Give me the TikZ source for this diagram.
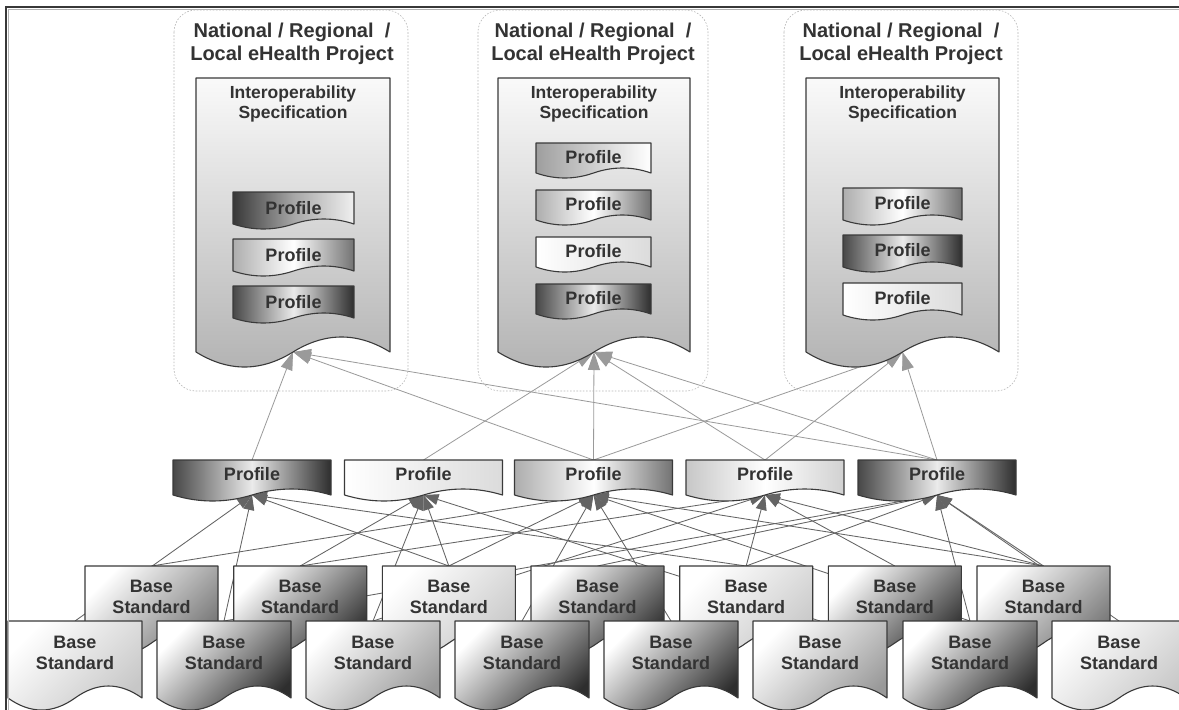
\documentclass[tikz,border=0pt]{standalone}
\usepackage{fontspec}
\setmainfont{Liberation Sans}
\usetikzlibrary{arrows.meta}
\definecolor{edgec}{HTML}{3A3A3A}
\definecolor{txtc}{HTML}{333333}
\definecolor{upc}{HTML}{9A9A9A}
\definecolor{loc}{HTML}{646464}
\pgfdeclarelayer{bgl}
\pgfdeclarelayer{lines}
\pgfsetlayers{bgl,lines,main}
\newcommand\docfont{\bfseries\fontsize{18}{21}\selectfont}
\newcommand\docshape[9]{%
  \pgfmathsetmacro\dsXl{#2-#4/2}%
  \pgfmathsetmacro\dsXr{#2+#4/2}%
  \pgfmathsetmacro\dsYb{#3+#5}%
  \pgfmathsetmacro\dsSx{#4/6}%
  \pgfmathsetmacro\dsUp{#3+#5-4*#6/3}%
  \pgfmathsetmacro\dsDn{#3+#5+4*#6/3}%
  \path[#7, draw=edgec, line width=1.1pt, line join=round]
    (\dsXl,#3) -- (\dsXr,#3) -- (\dsXr,\dsYb)
    .. controls ({\dsXr-\dsSx},\dsUp) and ({#2+\dsSx},\dsUp) .. (#2,\dsYb)
    .. controls ({#2-\dsSx},\dsDn) and ({\dsXl+\dsSx},\dsDn) .. (\dsXl,\dsYb) -- cycle;
  \node[inner sep=0pt, outer sep=0pt, minimum width=#4pt, minimum height=#5pt] (#1) at (#2,{#3+#5/2}) {};
  \node[doctext] (#1t) at (#2,{#3+#8}) {#9};
}
\tikzset{
  doctext/.style={align=center, inner sep=0pt, text=txtc, font=\docfont},
  titletext/.style={align=center, inner sep=0pt, text=txtc, font=\bfseries\fontsize{20}{23}\selectfont},
  projbox/.style={draw=black!28, line width=0.6pt, dash pattern=on 1.6pt off 1.6pt, rounded corners=22pt},
  sdoc/.style={top color=black!2, bottom color=black!30},
  pdark/.style={left color=black!72, right color=black!82, middle color=black!8},
  pdl/.style={left color=black!78, right color=black!6, middle color=black!35},
  pmed/.style={left color=black!32, right color=black!55, middle color=white},
  plt/.style={left color=black!22, right color=black!18, middle color=white},
  pgl/.style={left color=black!38, right color=white},
  pwhite/.style={left color=white, right color=black!14},
  bwhite/.style={top color=white, bottom color=black!22, shading angle=45},
  blmed/.style={top color=white, bottom color=black!40, shading angle=45},
  bmed/.style={top color=white, bottom color=black!55, shading angle=45},
  bdark/.style={top color=white, bottom color=black!82, shading angle=45},
  upline/.style={draw=upc, line width=0.8pt, -{Triangle[length=18pt,width=12pt]}},
  loline/.style={draw=loc, line width=0.85pt, -{Triangle[length=15pt,width=11pt]}},
}
\begin{document}
\begin{tikzpicture}[x=1pt,y=-1pt]
\useasboundingbox (0,0) rectangle (1179,710);
\begin{pgfonlayer}{bgl}
  \fill[white] (0,0) rectangle (1179,710);
\end{pgfonlayer}

% project boxes
\draw[projbox] (174,10) rectangle (408,391);
\draw[projbox] (478,10) rectangle (708,391);
\draw[projbox] (784,10) rectangle (1018,391);

\node[titletext] (t1) at (292,44) {National / Regional \ /\\Local eHealth Project};
\node[titletext] (t2) at (593,44) {National / Regional \ /\\Local eHealth Project};
\node[titletext] (t3) at (901,44) {National / Regional \ /\\Local eHealth Project};

% specifications
\renewcommand\docfont{\bfseries\fontsize{17.5}{20.5}\selectfont}
\docshape{S1}{293}{78}{194}{274}{15}{sdoc}{26}{Interoperability\\Specification}
\docshape{S2}{594}{78}{192}{274}{15}{sdoc}{26}{Interoperability\\Specification}
\docshape{S3}{902.5}{78}{193}{274}{15}{sdoc}{26}{Interoperability\\Specification}

\renewcommand\docfont{\bfseries\fontsize{18}{21}\selectfont}
% profiles inside specification 1
\docshape{Aa}{293.5}{192}{121}{32}{5}{pdl}{16}{Profile}
\docshape{Ab}{293.5}{239}{121}{32}{5}{pmed}{16}{Profile}
\docshape{Ac}{293.5}{286}{121}{32}{5}{pdark}{16}{Profile}
% profiles inside specification 2
\docshape{Ba}{593.5}{143}{115}{30}{5}{pgl}{14}{Profile}
\docshape{Bb}{593.5}{190}{115}{30}{5}{pmed}{14}{Profile}
\docshape{Bc}{593.5}{237}{115}{30}{5}{pwhite}{14}{Profile}
\docshape{Bd}{593.5}{284}{115}{30}{5}{pdark}{14}{Profile}
% profiles inside specification 3
\docshape{Ca}{902.5}{188}{119}{32}{5}{pmed}{15}{Profile}
\docshape{Cb}{902.5}{235}{119}{32}{5}{pdark}{15}{Profile}
\docshape{Cc}{902.5}{283}{119}{32}{5}{pwhite}{15}{Profile}

% middle profiles
\docshape{Pa}{252}{460}{158}{35}{6}{pdark}{14.5}{Profile}
\docshape{Pb}{423.5}{460}{158}{35}{6}{pwhite}{14.5}{Profile}
\docshape{Pc}{593.5}{460}{158}{35}{6}{pmed}{14.5}{Profile}
\docshape{Pd}{765}{460}{158}{35}{6}{plt}{14.5}{Profile}
\docshape{Pe}{937}{460}{158}{35}{6}{pdark}{14.5}{Profile}

% base standards, back row
\docshape{Bk1}{151.5}{566}{133}{77}{12}{bmed}{31}{Base\\Standard}
\docshape{Bk2}{300.2}{566}{133}{77}{12}{bdark}{31}{Base\\Standard}
\docshape{Bk3}{448.8}{566}{133}{77}{12}{bwhite}{31}{Base\\Standard}
\docshape{Bk4}{597.5}{566}{133}{77}{12}{bdark}{31}{Base\\Standard}
\docshape{Bk5}{746.2}{566}{133}{77}{12}{bwhite}{31}{Base\\Standard}
\docshape{Bk6}{894.8}{566}{133}{77}{12}{bdark}{31}{Base\\Standard}
\docshape{Bk7}{1043.5}{566}{133}{77}{12}{bmed}{31}{Base\\Standard}
% base standards, front row
\docshape{F1}{75}{621}{134}{77}{12}{bwhite}{32}{Base\\Standard}
\docshape{F2}{224}{621}{134}{77}{12}{bdark}{32}{Base\\Standard}
\docshape{F3}{373}{621}{134}{77}{12}{blmed}{32}{Base\\Standard}
\docshape{F4}{522}{621}{134}{77}{12}{bdark}{32}{Base\\Standard}
\docshape{F5}{671}{621}{134}{77}{12}{bdark}{32}{Base\\Standard}
\docshape{F6}{820}{621}{134}{77}{12}{blmed}{32}{Base\\Standard}
\docshape{F7}{970}{621}{134}{77}{12}{bdark}{32}{Base\\Standard}
\docshape{F8}{1119}{621}{134}{77}{12}{bwhite}{32}{Base\\Standard}

% connectors
\begin{pgfonlayer}{lines}
  \foreach \s/\t in {Pa/S1, Pc/S1, Pe/S1, Pb/S2, Pc/S2, Pd/S2, Pe/S2, Pc/S3, Pd/S3, Pe/S3}
    \draw[upline] (\s.north) -- (\t.south);
  \foreach \s/\t in {F1/Pa, F2/Pa, Bk3/Pa, Bk5/Pa,
                     Bk2/Pb, F3/Pb, Bk3/Pb, F6/Pb,
                     Bk1/Pc, Bk3/Pc, F4/Pc, F5/Pc, F7/Pc, Bk7/Pc,
                     Bk2/Pd, F3/Pd, Bk5/Pd, Bk6/Pd, Bk7/Pd,
                     F2/Pe, Bk4/Pe, Bk5/Pe, F7/Pe, Bk7/Pe, F8/Pe}
    \draw[loline] (\s.north) -- (\t.south);
\end{pgfonlayer}

% frame
\draw[black!30, line width=1pt] (8.5,710) -- (8.5,9.5) -- (1179,9.5);
\draw[black!78, line width=2pt] (6,710) -- (6,7) -- (1179,7);
\end{tikzpicture}
\end{document}
